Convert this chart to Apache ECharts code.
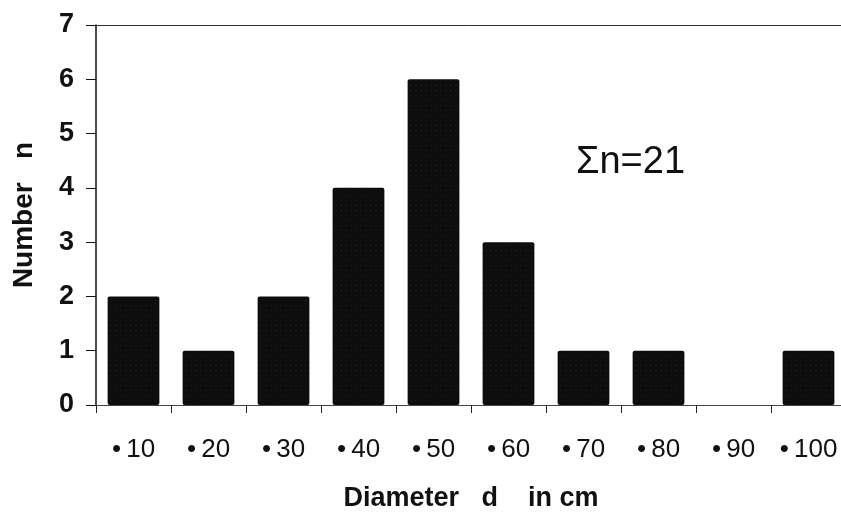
<!DOCTYPE html>
<html><head><meta charset="utf-8">
<script src="https://cdn.jsdelivr.net/npm/echarts@6/dist/echarts.min.js"></script>
<style>html,body{margin:0;padding:0;background:#fff}#c{width:841px;height:515px}</style>
</head><body><div id="c"></div>
<script>
const categories = ['10','20','30','40','50','60','70','80','90','100'];
const counts = [2,1,2,4,6,3,1,1,0,1];
const yTicks = [0,1,2,3,4,5,6,7];
const annotation = 'Σn=21';

const chart = echarts.init(document.getElementById('c'));
chart.setOption({
  animation:false,
  backgroundColor:'#fff',
  grid:{left:96, top:25, width:750, height:380, containLabel:false, outerBoundsMode:'none'},
  xAxis:[{
    type:'category', data:categories,
    axisLine:{lineStyle:{color:'#444', width:1}},
    axisTick:{show:true, length:8, lineStyle:{color:'#222'}},
    axisLabel:{formatter:v=>'•\u2009'+v, fontFamily:'Liberation Sans, Arial', fontSize:26, color:'#111', margin:32},
    name:'Diameter   d    in cm', nameLocation:'middle', nameGap:80,
    nameTextStyle:{fontFamily:'Liberation Sans, Arial', fontWeight:'bold', fontSize:27, color:'#111'}
  },{
    type:'category', data:categories, position:'top',
    axisLine:{show:true, lineStyle:{color:'#333', width:1}},
    axisTick:{show:false}, axisLabel:{show:false}
  }],
  yAxis:{
    type:'value', min:0, max:7, interval:1,
    axisLine:{show:true, lineStyle:{color:'#111', width:1.5}},
    axisTick:{show:true, length:10, lineStyle:{color:'#111'}},
    splitLine:{show:false},
    axisLabel:{formatter:v=>String(yTicks[v]), fontFamily:'Liberation Sans, Arial', fontWeight:'bold', fontSize:27, color:'#111', margin:22},
    name:'Number   n', nameLocation:'middle', nameGap:58, nameRotate:90,
    nameTextStyle:{fontFamily:'Liberation Sans, Arial', fontWeight:'bold', fontSize:28, color:'#111'}
  },
  series:[{
    type:'bar', data:counts, barWidth:'69%',
    itemStyle:{color:'#0d0d0d', borderRadius:2,
      decal:{symbol:'rect', symbolSize:0.35, dashArrayX:[2,3], dashArrayY:[1,4], color:'rgba(200,200,200,0.35)', rotation:0}}
  }],
  graphic:[{type:'text', left:576, top:144,
    style:{text:annotation, font:'38px "Liberation Sans", Arial', fill:'#111'}}]
});
</script></body></html>
